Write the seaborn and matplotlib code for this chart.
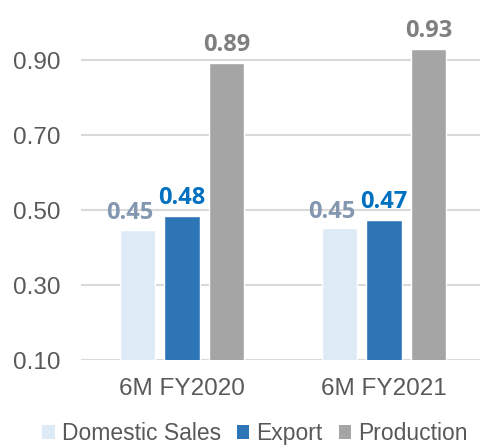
import pandas as pd
import seaborn as sns
import matplotlib
matplotlib.use('Agg')
import matplotlib.pyplot as plt
from matplotlib.patches import Patch

# chart data
periods = ['6M FY2020', '6M FY2021']
series = ['Domestic Sales', 'Export', 'Production']
domestic = [0.447, 0.452]
export = [0.484, 0.473]
production = [0.893, 0.929]
labels = {'Domestic Sales': ['0.45', '0.45'],
          'Export': ['0.48', '0.47'],
          'Production': ['0.89', '0.93']}
colors = ['#DEEBF7', '#2E75B6', '#A5A5A5']
label_colors = ['#8497B0', '#0070C0', '#7F7F7F']

df = pd.DataFrame({
    'period': periods * 3,
    'series': [s for s in series for _ in periods],
    'value': domestic + export + production,
})

sns.set_style('white')
plt.rcParams['font.family'] = ['Liberation Sans', 'DejaVu Sans']

fig = plt.figure(figsize=(4.81, 4.47), dpi=100)
ax = fig.add_axes([0.1684, 0.1946, 0.84, 0.755])

sns.barplot(data=df, x='period', y='value', hue='series', hue_order=series,
            order=periods, palette=colors, width=0.66, gap=0.2,
            saturation=1, legend=False, ax=ax, zorder=3)

ax.set_ylim(0.1, 1.0)
ax.set_xlim(-0.5, 1.5)
ax.set_yticks([0.1, 0.3, 0.5, 0.7, 0.9])
ax.set_yticklabels(['0.10', '0.30', '0.50', '0.70', '0.90'])
ax.yaxis.grid(True, color='#D9D9D9', linewidth=1.5, zorder=0)
ax.set_axisbelow(True)
for sp in ax.spines.values():
    sp.set_visible(False)
ax.tick_params(axis='both', length=0, labelsize=17.5, labelcolor='#595959')
ax.tick_params(axis='x', pad=13)
ax.tick_params(axis='y', pad=15)
ax.set_xlabel('')
ax.set_ylabel('')

# value labels
offsets = {'Domestic Sales': (-0.04, 0.012), 'Export': (0.0, 0.016), 'Production': (0.0, 0.016)}
for i, (cont, s) in enumerate(zip(ax.containers, series)):
    dx, dy = offsets[s]
    for bar, txt in zip(cont, labels[s]):
        x = bar.get_x() + bar.get_width() / 2 + dx
        y = bar.get_height() + dy
        ax.text(x, y, txt, ha='center', va='bottom', fontsize=17,
                fontweight='bold', color=label_colors[i],
                family=['Open Sans', 'DejaVu Sans'], clip_on=False, zorder=5)

handles = [Patch(facecolor=c, edgecolor='none') for c in colors]
fig.legend(handles, series, loc='center', bbox_to_anchor=(0.53, 0.03),
           ncol=3, frameon=False, fontsize=16.5, handlelength=0.55,
           handleheight=0.55, handletextpad=0.3, columnspacing=0.7,
           labelcolor='#595959', borderpad=0, borderaxespad=0)

fig.savefig('out.png', dpi=100)
